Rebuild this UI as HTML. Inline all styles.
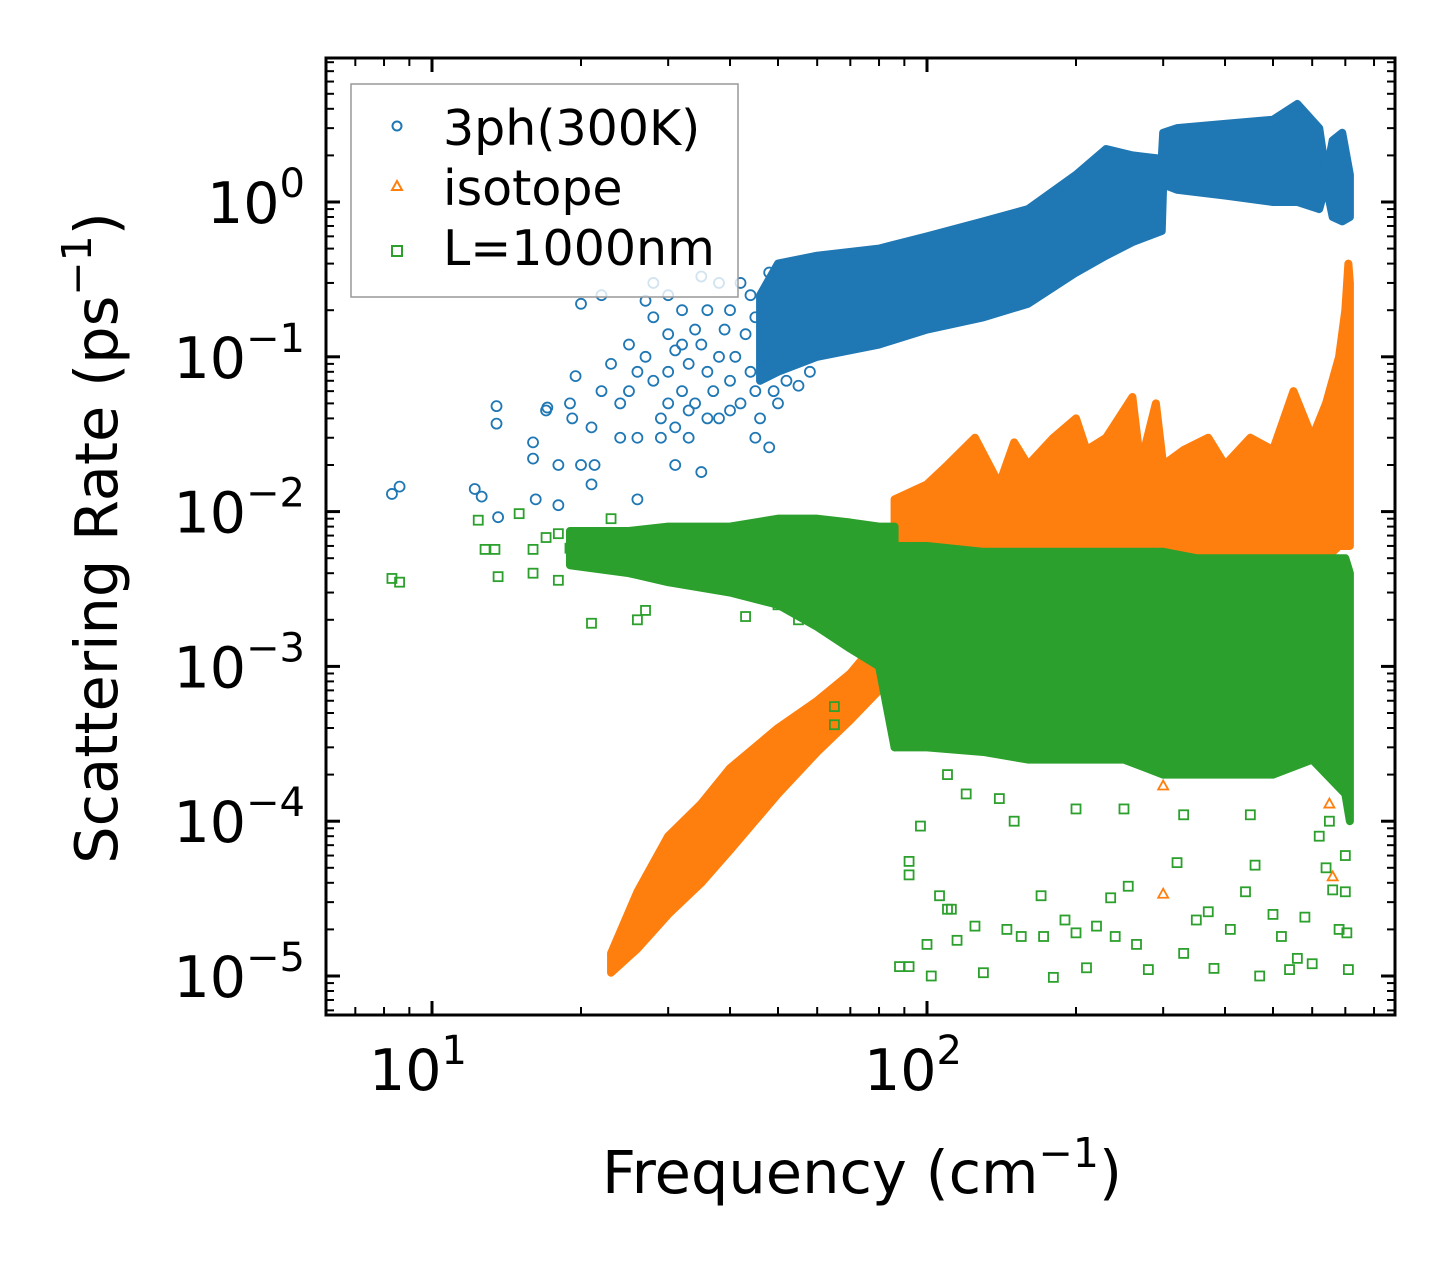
<!DOCTYPE html>
<html><head><meta charset="utf-8"><style>
html,body{margin:0;padding:0;background:#fff}
svg{display:block;font-family:"DejaVu Sans","Liberation Sans",sans-serif}
</style></head><body>
<svg id="chart" width="1455" height="1265" viewBox="0 0 1455 1265" xmlns="http://www.w3.org/2000/svg">
<rect width="1455" height="1265" fill="#fff"/>
<defs><clipPath id="pc"><rect x="326" y="58" width="1069" height="957"/></clipPath></defs>
<g id="plot" clip-path="url(#pc)"></g>
<g id="axes"></g>
<text x="862" y="1193" text-anchor="middle" font-size="59">Frequency (cm<tspan dy="-26" font-size="41">−1</tspan><tspan dy="26">)</tspan></text>
<text transform="translate(117,538) rotate(-90)" text-anchor="middle" font-size="59">Scattering Rate (ps<tspan dy="-26" font-size="41">−1</tspan><tspan dy="26">)</tspan></text>
<g>
<rect x="351" y="84" width="387" height="213" fill="#fff" fill-opacity="0.8" stroke="#999" stroke-width="1.5"/>
<circle cx="397" cy="126" r="4.5" fill="none" stroke="#1f77b4" stroke-width="2"/>
<text x="443" y="145" font-size="49">3ph(300K)</text>
<path d="M397,181 L402,190 L392,190 Z" fill="none" stroke="#ff7f0e" stroke-width="2"/>
<text x="443" y="205" font-size="49">isotope</text>
<rect x="392" y="246" width="10" height="10" fill="none" stroke="#2ca02c" stroke-width="2"/>
<text x="443" y="265" font-size="49">L=1000nm</text>
</g>
</svg>
<script>
const xTicks = [10, 100];
const xTickLabels = ["1", "2"];
const yTicks = [1, 0.1, 0.01, 0.001, 0.0001, 0.00001];
const yTickLabels = ["0", "−1", "−2", "−3", "−4", "−5"];
// blue band (3ph) envelope
const blueBandFreq = [46, 50, 60, 80, 100, 130, 160, 200, 230, 260, 298, 300, 320, 400, 500, 560, 620, 640, 660, 690, 715];
const blueBandLo = [0.07, 0.08, 0.1, 0.12, 0.15, 0.18, 0.22, 0.35, 0.45, 0.55, 0.65, 1.3, 1.2, 1.1, 1.0, 1.0, 0.9, 1.3, 0.8, 0.75, 0.8];
const blueBandHi = [0.25, 0.4, 0.45, 0.5, 0.6, 0.75, 0.9, 1.5, 2.2, 2.0, 1.9, 2.8, 3.0, 3.2, 3.4, 4.3, 3.0, 1.5, 2.5, 2.8, 1.5];
const blueScatter = [[8.3,0.013],[8.6,0.0145],[12.2,0.014],[12.6,0.0125],[13.5,0.048],[13.5,0.037],[13.6,0.0092],[16,0.028],[16,0.022],[16.2,0.012],[17,0.045],[17.1,0.047],[18,0.02],[18,0.011],[19,0.05],[19.2,0.04],[19.5,0.075],[20,0.02],[21,0.035],[21,0.015],[21.3,0.02],[22,0.06],[23,0.09],[24,0.05],[25,0.06],[25,0.12],[26,0.08],[26,0.03],[27,0.1],[28,0.07],[28,0.3],[29,0.04],[30,0.25],[30,0.05],[31,0.02],[32,0.12],[33,0.03],[34,0.15],[35,0.018],[36,0.08],[38,0.3],[38,0.04],[22,0.25],[20,0.22],[27,0.23],[48,0.026],[24,0.03],[26,0.012],[35,0.33],[40,0.045],[45,0.03],[30,0.08],[31,0.11],[32,0.06],[33,0.09],[34,0.05],[35,0.12],[36,0.2],[37,0.06],[38,0.1],[39,0.15],[40,0.07],[40,0.2],[41,0.1],[42,0.05],[42,0.3],[43,0.14],[44,0.08],[44,0.25],[45,0.06],[45,0.18],[46,0.04],[47,0.1],[48,0.35],[49,0.06],[50,0.05],[52,0.07],[55,0.065],[58,0.08],[30,0.14],[29,0.03],[31,0.035],[33,0.045],[36,0.04],[32,0.2],[28,0.18]];
// orange (isotope) bands
const orangeLowFreq = [23, 26, 30, 35, 40, 50, 60, 70, 80, 86];
const orangeLowLo = [1.05e-5, 1.5e-5, 2.5e-5, 4e-5, 6.5e-5, 1.5e-4, 2.8e-4, 4.5e-4, 7e-4, 9e-4];
const orangeLowHi = [1.4e-5, 3.5e-5, 8e-5, 1.3e-4, 2.2e-4, 4e-4, 6e-4, 9e-4, 1.5e-3, 2.2e-3];
const orangeMainFreq = [86, 100, 110, 125, 140, 150, 160, 180, 200, 210, 230, 260, 270, 290, 300, 330, 370, 400, 450, 500, 550, 600, 640, 680, 700, 710, 715];
const orangeMainLo = [0.004, 0.004, 0.004, 0.004, 0.004, 0.004, 0.004, 0.004, 0.004, 0.004, 0.004, 0.004, 0.004, 0.004, 0.004, 0.004, 0.004, 0.004, 0.004, 0.004, 0.004, 0.004, 0.005, 0.006, 0.006, 0.006, 0.006];
const orangeMainHi = [0.012, 0.015, 0.02, 0.03, 0.015, 0.028, 0.02, 0.03, 0.04, 0.025, 0.03, 0.055, 0.02, 0.05, 0.02, 0.025, 0.03, 0.02, 0.03, 0.025, 0.06, 0.03, 0.05, 0.1, 0.2, 0.4, 0.3];
const orangeScatter = [[300,3.4e-5],[300,1.7e-4],[650,1.3e-4],[660,4.4e-5],[680,2e-3],[690,1.5e-3]];
// green (boundary) bands
const greenBand1Freq = [19, 25, 30, 40, 50, 60, 70, 80, 86];
const greenBand1Lo = [0.0045, 0.004, 0.0035, 0.003, 0.0025, 0.0018, 0.0013, 0.001, 0.0003];
const greenBand1Hi = [0.0075, 0.0075, 0.008, 0.008, 0.009, 0.009, 0.0085, 0.008, 0.008];
const greenBand2Freq = [86, 100, 130, 160, 200, 250, 300, 350, 400, 500, 600, 700, 715];
const greenBand2Lo = [0.0003, 0.0003, 0.00028, 0.00025, 0.00025, 0.00025, 0.0002, 0.0002, 0.0002, 0.0002, 0.00025, 0.00015, 0.0001];
const greenBand2Hi = [0.006, 0.006, 0.0055, 0.0055, 0.0055, 0.0055, 0.0055, 0.005, 0.005, 0.005, 0.005, 0.005, 0.004];
const greenScatter = [[8.3,0.0037],[8.6,0.0035],[12.4,0.0088],[12.8,0.0057],[13.4,0.0057],[13.6,0.0038],[15,0.0097],[16,0.004],[17,0.0068],[18,0.0036],[19,0.0058],[21,0.0019],[23,0.009],[26,0.002],[27,0.0023],[43,0.0021],[65,0.00055],[65,0.00042],[92,0.000055],[92,0.000045],[88,0.0000115],[92,0.0000115],[97,0.000093],[100,0.000016],[102,0.00001],[106,0.000033],[110,0.000027],[112,0.000027],[115,0.000017],[125,0.000021],[130,0.0000105],[145,0.00002],[155,0.000018],[170,0.000033],[172,0.000018],[180,0.0000098],[190,0.000023],[200,0.000019],[210,0.0000113],[220,0.000021],[235,0.000032],[255,0.000038],[240,0.000018],[265,0.000016],[280,0.000011],[320,0.000054],[330,0.000014],[350,0.000023],[370,0.000026],[380,0.0000112],[410,0.00002],[440,0.000035],[460,0.000052],[470,0.00001],[500,0.000025],[520,0.000018],[540,0.000011],[560,0.000013],[580,0.000024],[600,0.000012],[640,0.00005],[660,0.000036],[680,0.00002],[700,0.000035],[705,0.000019],[710,0.000011],[700,0.00006],[620,0.00008],[650,0.0001],[150,0.0001],[200,0.00012],[250,0.00012],[330,0.00011],[450,0.00011],[120,0.00015],[110,0.0002],[140,0.00014],[22,0.006],[24,0.005],[28,0.0045],[32,0.004],[36,0.0038],[40,0.0036],[45,0.003],[50,0.0025],[55,0.002],[16,0.0057],[18,0.0072],[20,0.0055]];

const X0 = 432, XDEC = 495, Y0 = 202, YDEC = 154.8;
const sx = f => X0 + (Math.log10(f) - 1) * XDEC;
const sy = v => Y0 - Math.log10(v) * YDEC;
const NS = "http://www.w3.org/2000/svg";
const plot = document.getElementById('plot');
const axes = document.getElementById('axes');
function mk(tag, attrs, parent) {
  const e = document.createElementNS(NS, tag);
  for (const k in attrs) e.setAttribute(k, attrs[k]);
  parent.appendChild(e);
  return e;
}
function band(freq, lo, hi, color, name) {
  let pts = freq.map((f, i) => sx(f) + ',' + sy(hi[i]));
  for (let i = freq.length - 1; i >= 0; i--) pts.push(sx(freq[i]) + ',' + sy(lo[i]));
  const p = mk('polygon', {points: pts.join(' '), fill: color, stroke: color, 'stroke-width': 8, 'stroke-linejoin': 'round'}, plot);
  
  
}
function circles(arr, color) {
  arr.forEach(d => {
    const c = mk('circle', {cx: sx(d[0]), cy: sy(d[1]), r: 5, fill: 'none', stroke: color, 'stroke-width': 1.8}, plot);
    
    
  });
}
function tris(arr, color) {
  arr.forEach(d => {
    const x = sx(d[0]), y = sy(d[1]);
    const t = mk('path', {d: `M${x},${y-5} L${x+5},${y+4} L${x-5},${y+4} Z`, fill: 'none', stroke: color, 'stroke-width': 1.8}, plot);
    
    
  });
}
function squares(arr, color) {
  arr.forEach(d => {
    const s = mk('rect', {x: sx(d[0]) - 4.5, y: sy(d[1]) - 4.5, width: 9, height: 9, fill: 'none', stroke: color, 'stroke-width': 1.8}, plot);
    
    
  });
}
band(blueBandFreq, blueBandLo, blueBandHi, '#1f77b4', '3ph-dense-band');
circles(blueScatter, '#1f77b4');
band(orangeLowFreq, orangeLowLo, orangeLowHi, '#ff7f0e', 'isotope-low-band');
band(orangeMainFreq, orangeMainLo, orangeMainHi, '#ff7f0e', 'isotope-main-band');
tris(orangeScatter, '#ff7f0e');
band(greenBand1Freq, greenBand1Lo, greenBand1Hi, '#2ca02c', 'boundary-band-low');
band(greenBand2Freq, greenBand2Lo, greenBand2Hi, '#2ca02c', 'boundary-band-high');
squares(greenScatter, '#2ca02c');

const L = 326, R = 1395, T = 58, B = 1015;
const fr = mk('rect', {x: L, y: T, width: R - L, height: B - T, fill: 'none', stroke: '#000', 'stroke-width': 3}, axes);


function line(x1, y1, x2, y2, w) { mk('line', {x1, y1, x2, y2, stroke: '#000', 'stroke-width': w}, axes); }
for (let d = 0; d <= 2; d++) {
  for (let m = 1; m <= 9; m++) {
    const f = m * Math.pow(10, d);
    const x = sx(f);
    if (x < L || x > R) continue;
    const len = m === 1 ? 14 : 8, w = m === 1 ? 3 : 2;
    line(x, B, x, B - len, w); line(x, T, x, T + len, w);
  }
}
xTicks.forEach((f, i) => {
  const t = mk('text', {x: sx(f) - 14, y: 1090, 'text-anchor': 'middle', 'font-size': 57}, axes);
  
  
  t.innerHTML = '10<tspan dy="-26" font-size="40">' + xTickLabels[i] + '</tspan>';
});
for (let d = -6; d <= 0; d++) {
  for (let m = 1; m <= 9; m++) {
    const v = m * Math.pow(10, d);
    const y = sy(v);
    if (y < T || y > B) continue;
    const len = m === 1 ? 14 : 8, w = m === 1 ? 3 : 2;
    line(L, y, L + len, y, w); line(R, y, R - len, y, w);
  }
}
yTicks.forEach((v, i) => {
  const t = mk('text', {x: 305, y: sy(v) + 21, 'text-anchor': 'end', 'font-size': 57}, axes);
  
  
  t.innerHTML = '10<tspan dy="-26" font-size="40">' + yTickLabels[i] + '</tspan>';
});
</script>
</body></html>
